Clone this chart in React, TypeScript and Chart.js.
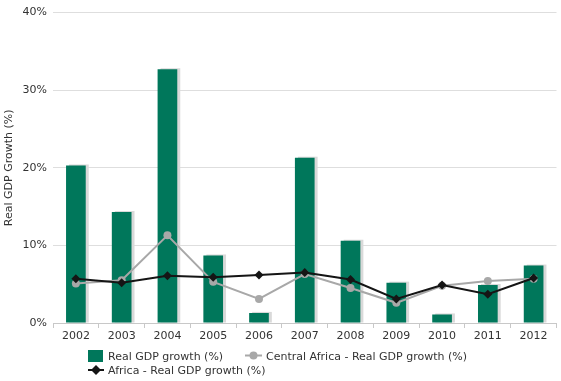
import React, { useEffect, useRef } from "react";
import { Chart, registerables } from "chart.js";

Chart.register(...registerables);

const years = ["2002", "2003", "2004", "2005", "2006", "2007", "2008", "2009", "2010", "2011", "2012"];
const realGdp = [20.3, 14.3, 32.7, 8.7, 1.3, 21.3, 10.6, 5.2, 1.1, 4.9, 7.4];
const centralAfrica = [5.1, 5.5, 11.3, 5.3, 3.1, 6.3, 4.5, 2.6, 4.8, 5.4, 5.7];
const africa = [5.7, 5.2, 6.1, 5.9, 6.2, 6.5, 5.6, 3.1, 4.9, 3.7, 5.8];
const yTicks = [0, 10, 20, 30, 40];

const labelRealGdp = "Real GDP growth (%)";
const labelCentral = "Central Africa - Real GDP growth (%)";
const labelAfrica = "Africa - Real GDP growth (%)";
const yTitle = "Real GDP Growth (%)";

const GREEN = "#00775B";
const GRAY = "#A8A8A8";
const BLACK = "#151515";
const FONT = "'DejaVu Sans', Verdana, sans-serif";

const shadowPlugin = {
  id: "barShadow",
  beforeDatasetsDraw(chart: any) {
    const meta = chart.getDatasetMeta(0);
    const ctx = chart.ctx;
    ctx.save();
    ctx.fillStyle = "#d9d9d9";
    meta.data.forEach((bar: any) => {
      const p = bar.getProps(["x", "y", "base", "width"], true);
      ctx.fillRect(p.x - p.width / 2 + 3, p.y - 1, p.width, p.base - p.y + 1);
    });
    ctx.restore();
  },
};

export default function App() {
  const ref = useRef<HTMLCanvasElement | null>(null);
  useEffect(() => {
    if (!ref.current) return;
    const chart = new Chart(ref.current, {
      type: "bar",
      data: {
        labels: years,
        datasets: [
          {
            type: "bar",
            label: labelRealGdp,
            data: realGdp,
            backgroundColor: GREEN,
            categoryPercentage: 1,
            barPercentage: 0.43,
            order: 3,
          } as any,
          {
            type: "line",
            label: labelCentral,
            data: centralAfrica,
            borderColor: GRAY,
            backgroundColor: GRAY,
            borderWidth: 2,
            pointRadius: 4,
            pointStyle: "circle",
            pointBorderWidth: 0,
            tension: 0,
            order: 2,
          },
          {
            type: "line",
            label: labelAfrica,
            data: africa,
            borderColor: BLACK,
            backgroundColor: BLACK,
            borderWidth: 2,
            pointRadius: 4.5,
            pointStyle: "rectRot",
            pointBorderWidth: 0,
            tension: 0,
            order: 1,
          },
        ],
      },
      options: {
        animation: false,
        responsive: false,
        maintainAspectRatio: false,
        layout: { padding: { top: 10, right: 4, left: 3, bottom: 0 } },
        plugins: {
          legend: { display: false },
          tooltip: { enabled: false },
        },
        scales: {
          x: {
            offset: true,
            grid: {
              offset: true,
              drawOnChartArea: false,
              drawTicks: true,
              tickLength: 5,
              color: "#c8c8c8",
            },
            border: { display: true, color: "#c8c8c8" },
            ticks: {
              color: "#333",
              font: { family: FONT, size: 11 },
              padding: 2,
              maxRotation: 0,
            },
            afterFit: (s: any) => {
              s.height = 58;
            },
          },
          y: {
            min: 0,
            max: 40,
            afterBuildTicks: (s: any) => {
              s.ticks = yTicks.map((v) => ({ value: v }));
            },
            grid: { color: "#dedede", drawTicks: false, lineWidth: 1 },
            border: { display: false },
            ticks: {
              color: "#333",
              font: { family: FONT, size: 11 },
              padding: 6,
              callback: (v: any) => v + "%",
            },
            title: {
              display: true,
              text: yTitle,
              color: "#333",
              font: { family: FONT, size: 11 },
              padding: { top: 0, bottom: 0 },
            },
            afterFit: (s: any) => {
              s.width = 50;
            },
          },
        },
      },
      plugins: [shadowPlugin],
    });
    return () => chart.destroy();
  }, []);

  const textStyle: React.CSSProperties = {
    position: "absolute",
    fontFamily: FONT,
    fontSize: 11,
    color: "#333",
    lineHeight: "13px",
    whiteSpace: "nowrap",
  };

  return (
    <div style={{ position: "fixed", left: 0, top: 0, width: 561, height: 381, background: "#fff" }}>
      <canvas ref={ref} width={561} height={381} style={{ display: "block", width: 561, height: 381 }} />
      <svg style={{ position: "absolute", left: 0, top: 340 }} width={561} height={41}>
        <rect x={88} y={10} width={15} height={12} fill={GREEN} />
        <line x1={245} y1={15.5} x2={262} y2={15.5} stroke={GRAY} strokeWidth={2} />
        <circle cx={253.5} cy={15.5} r={4} fill={GRAY} />
        <line x1={88} y1={30} x2={104} y2={30} stroke={BLACK} strokeWidth={2} />
        <polygon points="96,25 101,30 96,35 91,30" fill={BLACK} />
      </svg>
      <div style={{ ...textStyle, left: 108, top: 350 }}>{labelRealGdp}</div>
      <div style={{ ...textStyle, left: 266, top: 350 }}>{labelCentral}</div>
      <div style={{ ...textStyle, left: 108, top: 364 }}>{labelAfrica}</div>
    </div>
  );
}
